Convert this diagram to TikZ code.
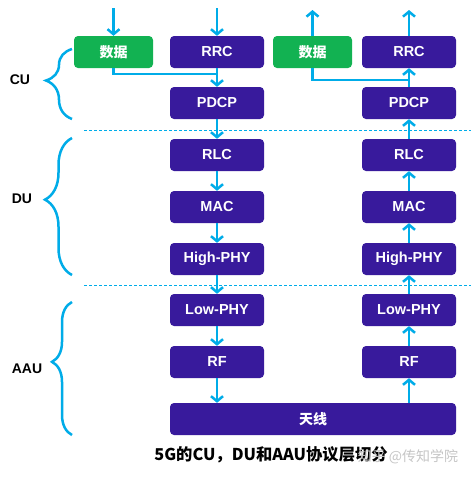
\documentclass[tikz,border=0pt]{standalone}
\usepackage{fontspec}
\setmainfont{Liberation Sans}
\newfontfamily\cjk{Noto Sans CJK SC}
\usetikzlibrary{arrows.meta,decorations.pathreplacing}

\definecolor{layerpurple}{RGB}{56,26,156}
\definecolor{datagreen}{RGB}{18,178,82}
\definecolor{linkcyan}{RGB}{0,172,232}

\tikzset{
  layer/.style={fill=layerpurple, rounded corners=4pt, inner sep=0pt,
    minimum width=94pt, minimum height=32pt, text=white,
    font=\bfseries\fontsize{14.5}{16}\selectfont},
  datablock/.style={layer, fill=datagreen, minimum width=79pt,
    font=\cjk\bfseries\fontsize{14}{16}\selectfont},
  link/.style={draw=linkcyan, line width=2.5pt, -{Straight Barb[length=5pt,width=12pt]}},
  wire/.style={draw=linkcyan, line width=2.5pt},
  split/.style={draw=linkcyan, densely dashed, line width=0.8pt},
  bracket/.style={draw=linkcyan, line width=2.5pt, decorate},
  unit/.style={font=\bfseries\fontsize{14}{16}\selectfont}
}

\begin{document}
\begin{tikzpicture}[x=1pt,y=-1pt]
    \def \txx {217} % sending column
    \def \rxx {409} % receiving column
    \useasboundingbox[fill=white] (0,0) rectangle (471,480);

    % protocol layers, both columns
    \foreach \nm/\lbl/\y in {rrc/RRC/52, pdcp/PDCP/103, rlc/RLC/155, mac/MAC/207,
                             hphy/High-PHY/259, lphy/Low-PHY/310, rf/RF/362}
    {
      \node[layer] (tx-\nm) at (\txx,\y) {\lbl};
      \node[layer] (rx-\nm) at (\rxx,\y) {\lbl};
    }
    \node[datablock] (tx-data) at (113.5,52) {数据};
    \node[datablock] (rx-data) at (312.5,52) {数据};
    \node[layer, minimum width=286pt, font=\cjk\bfseries\fontsize{14}{16}\selectfont]
      (ant) at (313,419) {天线};

    % separators between CU, DU and AAU
    \draw[split] (84,130) -- (471,130);
    \draw[split] (84,285) -- (471,285);

    % down the left column, up the right one
    \foreach \a/\b in {rrc/pdcp, pdcp/rlc, rlc/mac, mac/hphy, hphy/lphy, lphy/rf}
    {
      \draw[link] (tx-\a) -- (tx-\b);
      \draw[link] (rx-\b) -- (rx-\a);
    }
    \draw[link] (tx-rf.south) -- (tx-rf.south |- ant.north);
    \draw[link] (rx-rf.south |- ant.north) -- (rx-rf.south);

    \coordinate (tx-in) at (113.5,8);
    \coordinate (tx-top) at (\txx,8);
    \coordinate (rx-out) at (312.5,10);
    \coordinate (rx-top) at (\rxx,10);
    \draw[link] (tx-in) -- (tx-data);
    \draw[link] (tx-top) -- (tx-rrc);
    \draw[link] (rx-data) -- (rx-out);
    \draw[link] (rx-rrc) -- (rx-top);

    \coordinate (tx-join) at (\txx,74);
    \coordinate (rx-join) at (\rxx,80);
    \draw[wire] (tx-data) |- (tx-join);
    \draw[wire] (rx-data) |- (rx-join);

    % braces with unit names
    \foreach \lbl/\top/\bot/\amp/\lx/\ly in {CU/49/119/26/20/80, DU/138/275/27/22/199,
                                             AAU/302/435/20/27/369}
    {
      \draw[bracket, decoration={brace, amplitude=\amp pt, aspect=0.55}]
        (72,\bot) -- (72,\top);
      \node[unit] (unit-\lbl) at (\lx,\ly) {\lbl};
    }

    \node[font=\cjk\bfseries\fontsize{16.3}{18}\selectfont] (caption) at (271,455)
      {5G的CU，DU和AAU协议层切分};
    \node[font=\cjk\fontsize{14}{16}\selectfont, text=gray!45] (mark) at (408,457)
      {知乎 @传知学院};
\end{tikzpicture}
\end{document}
